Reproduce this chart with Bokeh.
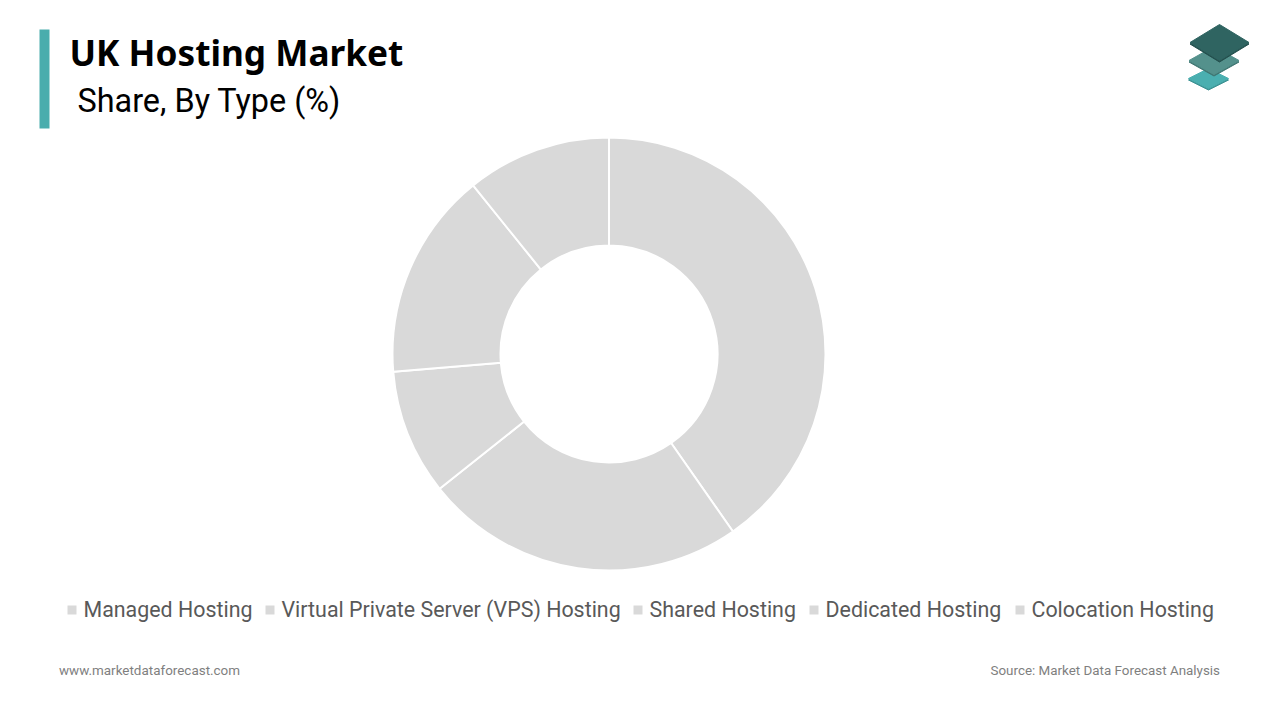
from math import pi
from bokeh.plotting import figure
from bokeh.models import Range1d
from bokeh.core.properties import value
from bokeh.embed import file_html
from bokeh.resources import INLINE

categories = ["Managed Hosting", "Virtual Private Server (VPS) Hosting", "Shared Hosting", "Dedicated Hosting", "Colocation Hosting"]
shares = [40.3, 24.0, 9.4, 15.5, 10.8]
slice_color = "#d9d9d9"
title = "UK Hosting Market"
subtitle = "Share, By Type (%)"
left_note = "www.marketdataforecast.com"
right_note = "Source: Market Data Forecast Analysis"
legend_square_x = [72.5, 270.5, 638.5, 814.5, 1020.5]
legend_text_x = [84, 282, 650, 826, 1032]

W, H = 1264, 704
p = figure(width=W, height=H, output_backend="svg", toolbar_location=None,
           x_range=Range1d(1, W + 1), y_range=Range1d(720 - H - 1, 719), min_border=0)
p.axis.visible = False
p.grid.visible = False
p.outline_line_color = None
p.background_fill_color = "white"
p.border_fill_color = "white"

Y = lambda py: 720 - py

# donut
total = sum(shares)
ang = [pi / 2]
for s in shares:
    ang.append(ang[-1] - 2 * pi * s / total)
p.annular_wedge(x=[609.5] * 5, y=[Y(354.5)] * 5, inner_radius=108.5, outer_radius=216.5,
                inner_radius_units="screen", outer_radius_units="screen",
                start_angle=ang[:-1], end_angle=ang[1:], direction="clock",
                fill_color=slice_color, line_color="white", line_width=2)

# accent bar
p.quad(left=[40], right=[50], top=[Y(30)], bottom=[Y(129)], fill_color="#4aadad", line_color=None)

# titles
p.text(x=[70], y=[Y(52)], text=[title], text_font=value("Noto Sans"), text_font_style="bold",
       text_font_size="35.2px", text_color="#000000", text_baseline="middle", text_align="left")
p.text(x=[78], y=[Y(101)], text=[subtitle], text_font=value("Roboto"),
       text_font_size="32.4px", text_color="#000000", text_baseline="middle", text_align="left")

# legend
sq = [x for x in legend_square_x]
p.quad(left=[x - 4.5 for x in sq], right=[x + 4.5 for x in sq], top=[Y(606)] * 5, bottom=[Y(615)] * 5,
       fill_color=slice_color, line_color=None)
p.text(x=legend_text_x, y=[Y(609.5)] * 5, text=categories, text_font=value("Roboto"),
       text_font_size="21.4px", text_color="#595959", text_baseline="middle", text_align="left")

# footer
p.text(x=[59.5], y=[Y(671)], text=[left_note], text_font=value("Roboto"), text_font_size="13.45px",
       text_color="#7f7f7f", text_baseline="middle", text_align="left")
p.text(x=[1220.5], y=[Y(671)], text=[right_note], text_font=value("Roboto"), text_font_size="13.4px",
       text_color="#7f7f7f", text_baseline="middle", text_align="right")

# logo
def diamond(cx, cy, hw, hh):
    return [cx - hw, cx, cx + hw, cx], [Y(cy), Y(cy - hh), Y(cy), Y(cy + hh)]
for cx, cy, hw, hh, c, e in [(1209, 79, 20, 10, "#4aafb0", "#3c9394"),
                             (1214.5, 61, 25, 14, "#54918c", "#3f7672"),
                             (1220, 43, 29.5, 18, "#2f6461", "#234f4d")]:
    xs, ys = diamond(cx, cy + 1.5, hw, hh)
    p.patch(xs, ys, fill_color=e, line_color=e, line_width=1, line_join="round")
    xs, ys = diamond(cx, cy, hw, hh)
    p.patch(xs, ys, fill_color=c, line_color=c, line_width=1, line_join="round")

open("out.html", "w").write(file_html(p, INLINE))
